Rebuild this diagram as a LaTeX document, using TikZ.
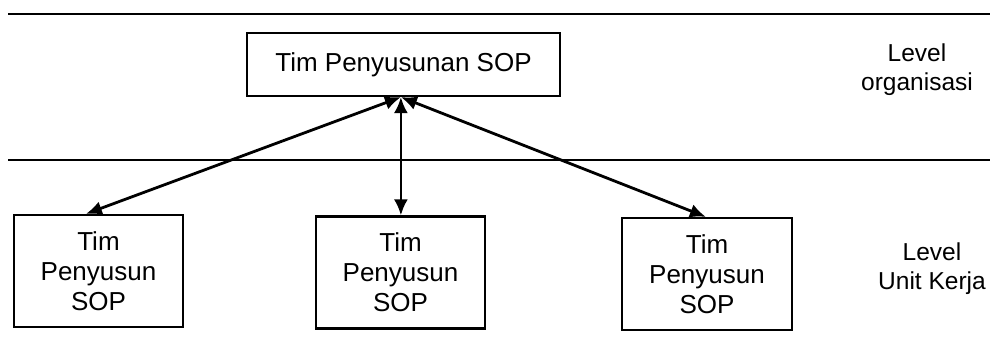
\documentclass[tikz,border=0pt]{standalone}
\usepackage{fontspec}
\setmainfont{Liberation Sans}
\usetikzlibrary{arrows.meta,calc}
\begin{document}
\begin{tikzpicture}[x=1pt,y=-1pt,
  box/.style={draw=black,line width=2.2pt,fill=white,inner sep=0pt,align=center,
    font=\fontsize{26}{30}\selectfont},
  lbl/.style={align=center,font=\fontsize{24.5}{29}\selectfont},
  sep/.style={line width=2.4pt},
  link/.style={line width=2.8pt,{Latex[length=16pt,width=14pt]}-{Latex[length=16pt,width=14pt]}}]
\useasboundingbox (0,0) rectangle (990,347);
\draw[sep] (8,14) -- (990,14);
\draw[sep] (8,160) -- (990,160);
\node[box,minimum width=313pt,minimum height=63pt] (top) at (403.5,64.5) {Tim Penyusunan SOP};
\node[box,minimum width=169pt,minimum height=112pt] (b1) at (98.5,271) {Tim\\Penyusun\\SOP};
\node[box,minimum width=169pt,minimum height=112pt] (b2) at (400.5,272.5) {Tim\\Penyusun\\SOP};
\node[box,minimum width=170pt,minimum height=112pt] (b3) at (707,274) {Tim\\Penyusun\\SOP};
\node[lbl] (l1) at (917,70) {Level\\organisasi};
\node[lbl] (l2) at (932,269) {Level\\Unit Kerja};
\coordinate (hub) at ($(top.south west)+(155,0)$);
\draw[link] (hub) -- ($(b1.north west)+(73,0)$);
\draw[link] (hub) -- ($(b2.north west)+(86,0)$);
\draw[link] (hub) -- ($(b3.north west)+(85,0)$);
\end{tikzpicture}
\end{document}
